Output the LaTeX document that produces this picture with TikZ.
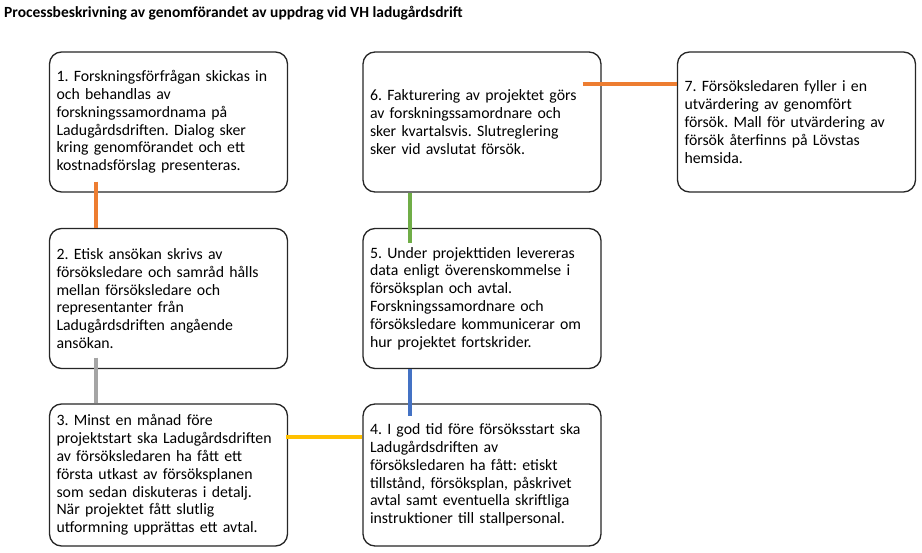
\documentclass[tikz,border=0pt]{standalone}
\usepackage{fontspec}
\setmainfont{Carlito}
\usetikzlibrary{calc}
\definecolor{cOrange}{HTML}{ED7D31}
\definecolor{cGray}{HTML}{A5A5A5}
\definecolor{cYellow}{HTML}{FFC000}
\definecolor{cBlue}{HTML}{4472C4}
\definecolor{cGreen}{HTML}{70AD47}
\definecolor{cBorder}{HTML}{262626}
\frenchspacing
\begin{document}
\begin{tikzpicture}[x=1pt,y=-1pt,
  stepbox/.style={draw=cBorder, line width=1.3pt, rounded corners=12pt, fill=white,
    minimum width=237pt, minimum height=140pt, text width=224pt, inner xsep=7pt, inner ysep=0pt,
    align=left, font=\fontsize{15.8pt}{17.8pt}\selectfont},
  link/.style={line width=4pt}]
\useasboundingbox (0,0) rectangle (922,553);
\node[anchor=west, font=\bfseries\fontsize{15.5pt}{17pt}\selectfont, inner sep=0pt] (title) at (4,13.5) {Processbeskrivning av genomförandet av uppdrag vid VH ladugårdsdrift};

\node[stepbox] (b1) at (168.5,122) {1. Forskningsförfrågan skickas in\\och behandlas av\\forskningssamordnama på\\Ladugårdsdriften. Dialog sker\\kring genomförandet och ett\\kostnadsförslag presenteras.};
\node[stepbox] (b6) at (482,122) {6. Fakturering av projektet görs\\av forskningssamordnare och\\sker kvartalsvis. Slutreglering\\sker vid avslutat försök.};
\node[stepbox] (b7) at (796.5,122) {7. Försöksledaren fyller i en\\utvärdering av genomfört\\försök. Mall för utvärdering av\\försök återfinns på Lövstas\\hemsida.};
\node[stepbox] (b2) at (168.5,298.5) {2. Etisk ansökan skrivs av\\försöksledare och samråd hålls\\mellan försöksledare och\\representanter från\\Ladugårdsdriften angående\\ansökan.};
\node[stepbox] (b5) at (482,298.5) {5. Under projekttiden levereras\\data enligt överenskommelse i\\försöksplan och avtal.\\Forskningssamordnare och\\försöksledare kommunicerar om\\hur projektet fortskrider.};
\node[stepbox, minimum height=142pt] (b3) at (168.5,475) {3. Minst en månad före\\projektstart ska Ladugårdsdriften\\av försöksledaren ha fått ett\\första utkast av försöksplanen\\som sedan diskuteras i detalj.\\När projektet fått slutlig\\utformning upprättas ett avtal.};
\node[stepbox, minimum height=142pt] (b4) at (482,475) {4. I god tid före försöksstart ska\\Ladugårdsdriften av\\försöksledaren ha fått: etiskt\\tillstånd, försöksplan, påskrivet\\avtal samt eventuella skriftliga\\instruktioner till stallpersonal.};

% connectors (yshift is in canvas direction: positive = up)
\draw[link, cOrange] ([xshift=47pt,yshift=11pt]b1.south west) -- ([xshift=47pt]b2.north west);
\draw[link, cGray] ([xshift=47pt,yshift=11.5pt]b2.south west) -- ([xshift=47pt]b3.north west);
\draw[link, cYellow] ([xshift=-2pt,yshift=-34pt]b3.north east) -- ([yshift=-34pt]b4.north west);
\draw[link, cBlue] ([xshift=47.5pt]b5.south west) -- ([xshift=47.5pt,yshift=-13pt]b4.north west);
\draw[link, cGreen] ([xshift=47.5pt]b6.south west) -- ([xshift=47.5pt,yshift=-15pt]b5.north west);
\draw[link, cOrange] ([xshift=-19pt,yshift=-32.5pt]b6.north east) -- ([yshift=-32.5pt]b7.north west);
\end{tikzpicture}
\end{document}
